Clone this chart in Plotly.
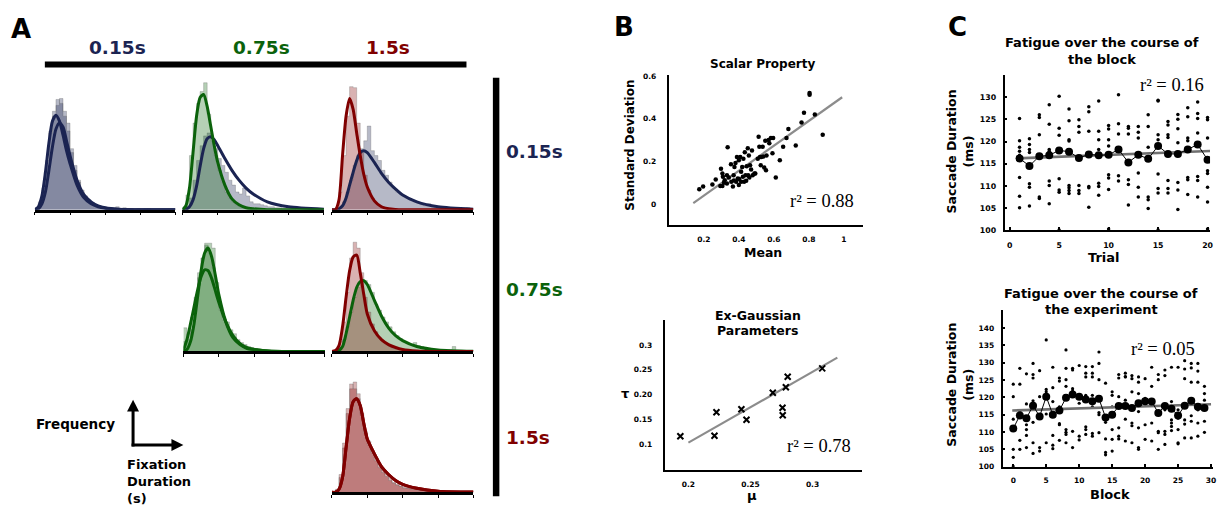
import plotly.graph_objects as go

W, H = 1223, 511

NAVY = '#1b2452'
GREEN = '#0b620b'
RED = '#800000'
NAVY_FILL = 'rgba(27,36,82,0.32)'
GREEN_FILL = 'rgba(11,98,11,0.30)'
RED_FILL = 'rgba(128,0,0,0.30)'

# ---------------- Panel A data (fixation duration histograms) ----------------
BIN_EDGES = [round(0.05 * i, 2) for i in range(41)]
CURVE_X = [0, 0.05, 0.1, 0.15, 0.2, 0.25, 0.3, 0.35, 0.4, 0.45, 0.5, 0.6, 0.7, 0.8, 0.9, 1.0, 1.2, 1.5, 2.0]

H11A = [2, 8, 22, 50, 80, 100, 106, 113, 100, 88, 62, 45, 30, 20, 14, 10, 7, 5, 4, 3, 2, 2, 1, 3, 1, 2, 1, 1, 0, 1, 0, 0, 1, 0, 0, 0, 0, 0, 0, 0]
H11B = [1, 6, 20, 45, 78, 95, 112, 108, 95, 80, 58, 40, 28, 18, 12, 8, 6, 4, 3, 2, 2, 1, 2, 1, 1, 1, 0, 1, 0, 0, 0, 1, 0, 0, 0, 0, 0, 0, 0, 0]
H12G = [2, 15, 55, 88, 108, 120, 129, 97, 72, 55, 40, 28, 18, 12, 8, 5, 3, 2, 2, 1, 1, 0, 0, 0, 0, 0, 0, 0, 0, 0, 0, 0, 0, 0, 0, 0, 0, 0, 0, 0]
H12N = [0, 3, 12, 30, 50, 65, 75, 78, 70, 62, 52, 45, 38, 30, 25, 18, 16, 22, 14, 8, 6, 6, 5, 4, 3, 3, 2, 2, 1, 1, 1, 1, 0, 0, 0, 0, 0, 0, 0, 0]
H13R = [0, 2, 18, 55, 95, 125, 124, 88, 58, 35, 20, 12, 7, 4, 3, 2, 1, 1, 0, 0, 0, 0, 0, 0, 0, 0, 0, 0, 0, 0, 0, 0, 0, 0, 0, 0, 0, 0, 0, 0]
H13N = [0, 0, 2, 8, 18, 30, 45, 55, 62, 70, 85, 60, 55, 50, 40, 35, 28, 22, 18, 16, 14, 12, 10, 8, 7, 5, 4, 6, 3, 2, 2, 1, 1, 1, 1, 0, 1, 0, 2, 0]
H22A = [24, 12, 22, 47, 75, 95, 110, 110, 105, 70, 45, 35, 30, 22, 18, 12, 9, 7, 5, 4, 3, 2, 1, 1, 1, 0, 1, 0, 0, 0, 0, 0, 0, 0, 0, 0, 0, 0, 0, 0]
H22B = [10, 18, 35, 55, 80, 95, 108, 100, 85, 60, 42, 32, 25, 18, 14, 10, 7, 5, 4, 3, 2, 2, 1, 1, 0, 1, 0, 0, 0, 0, 0, 0, 0, 0, 0, 0, 0, 0, 0, 0]
H23R = [0, 2, 10, 30, 60, 95, 111, 105, 80, 55, 40, 28, 20, 14, 10, 7, 5, 3, 2, 2, 1, 0, 0, 0, 0, 0, 0, 0, 0, 0, 0, 0, 0, 0, 0, 0, 0, 0, 0, 0]
H23G = [0, 1, 4, 12, 25, 40, 55, 65, 70, 72, 68, 60, 48, 42, 35, 30, 25, 20, 16, 13, 10, 8, 7, 9, 6, 5, 3, 3, 2, 2, 2, 1, 1, 2, 5, 1, 0, 0, 0, 0]
H33A = [0, 3, 15, 45, 80, 105, 112, 100, 80, 62, 52, 42, 35, 28, 22, 18, 14, 10, 8, 6, 5, 4, 4, 3, 3, 2, 2, 2, 1, 1, 1, 1, 0, 0, 0, 0, 0, 0, 0, 0]
H33B = [0, 2, 18, 50, 85, 110, 105, 95, 78, 60, 48, 40, 32, 25, 20, 16, 12, 9, 7, 6, 4, 4, 3, 3, 2, 2, 1, 2, 1, 1, 1, 0, 0, 0, 0, 0, 0, 0, 0, 0]

C11A = [0, 3, 14, 38, 68, 90, 96, 90, 76, 60, 47, 25, 12, 6, 3, 1.5, 0.3, 0, 0]
C11B = [0, 1, 6, 18, 40, 64, 82, 88, 84, 70, 55, 30, 15, 8, 4, 2, 0.5, 0, 0]
C12G = [0, 4, 22, 58, 95, 114, 117, 105, 85, 65, 48, 25, 11, 5, 2, 1, 0, 0, 0]
C12N = [0, 0.5, 3, 10, 24, 44, 62, 72, 74, 71, 65, 52, 40, 30, 22, 16, 8, 3, 0.5]
C13R = [0, 0, 10, 55, 95, 113, 102, 78, 55, 36, 23, 9, 3, 1, 0.3, 0, 0, 0, 0]
C13N = [0, 0, 1, 4, 12, 25, 38, 50, 58, 60, 58, 48, 37, 28, 21, 15, 8, 3, 0.5]
C22A = [0, 2, 10, 28, 55, 82, 100, 105, 96, 78, 58, 30, 14, 7, 3, 2, 0.5, 0, 0]
C22B = [1, 12, 28, 45, 62, 76, 83, 82, 74, 62, 50, 30, 16, 8, 4, 2, 0.5, 0, 0]
C23R = [0, 1, 6, 25, 55, 82, 96, 98, 80, 58, 38, 21, 12, 7, 4, 2, 0.5, 0, 0]
C23G = [0, 0, 1, 5, 18, 35, 52, 65, 71, 72, 68, 52, 36, 24, 16, 11, 5, 1.5, 0.2]
C33R = [0, 0, 3, 15, 45, 75, 92, 95, 88, 70, 54, 39, 26, 18, 12, 8, 4, 1, 0.2]

COL_LABELS = ['0.15s', '0.75s', '1.5s']
ROW_LABELS = ['0.15s', '0.75s', '1.5s']

# ---------------- Panel B data ----------------
SP_MEAN = [0.174, 0.196, 0.249, 0.268, 0.298, 0.294, 0.306, 0.306, 0.309, 0.319, 0.332, 0.336, 0.332, 0.343,
           0.355, 0.357, 0.366, 0.370, 0.375, 0.381, 0.385, 0.389, 0.394, 0.400, 0.400, 0.408, 0.413, 0.413,
           0.419, 0.423, 0.426, 0.430, 0.434, 0.438, 0.442, 0.445, 0.451, 0.453, 0.457, 0.460, 0.464, 0.470,
           0.475, 0.479, 0.489, 0.494, 0.508, 0.513, 0.517, 0.521, 0.525, 0.528, 0.536, 0.540, 0.545, 0.551,
           0.555, 0.558, 0.570, 0.574, 0.583, 0.592, 0.596, 0.611, 0.634, 0.653, 0.672, 0.683, 0.725, 0.758,
           0.772, 0.804, 0.804, 0.834, 0.879, 0.315, 0.372, 0.402]
SP_SD = [0.069, 0.082, 0.092, 0.115, 0.166, 0.085, 0.085, 0.143, 0.128, 0.112, 0.135, 0.266, 0.097, 0.125,
         0.186, 0.105, 0.082, 0.135, 0.174, 0.192, 0.105, 0.220, 0.120, 0.089, 0.205, 0.220, 0.151, 0.105,
         0.174, 0.128, 0.212, 0.105, 0.243, 0.135, 0.109, 0.177, 0.262, 0.135, 0.228, 0.125, 0.182, 0.162,
         0.251, 0.135, 0.143, 0.143, 0.212, 0.315, 0.269, 0.220, 0.182, 0.220, 0.269, 0.223, 0.171, 0.297,
         0.158, 0.228, 0.300, 0.285, 0.309, 0.238, 0.309, 0.125, 0.205, 0.269, 0.309, 0.351, 0.274, 0.382,
         0.428, 0.520, 0.512, 0.420, 0.325, 0.100, 0.110, 0.118]
SP_FIT = {'slope': 0.5824, 'intercept': -0.0765, 'x': [0.14, 0.99], 'r2': '0.88'}

EG_MU = [0.1935, 0.221, 0.2226, 0.2427, 0.2468, 0.268, 0.2758, 0.276, 0.2785, 0.280, 0.3078]
EG_TAU = [0.117, 0.118, 0.165, 0.171, 0.150, 0.204, 0.174, 0.159, 0.215, 0.236, 0.253]
EG_FIT = {'slope': 1.42, 'intercept': -0.180, 'x': [0.2, 0.32], 'r2': '0.78'}

# ---------------- Panel C data ----------------
TRIALS = list(range(1, 21))
TRIAL_MEANS = [116.2, 114.5, 116.7, 116.9, 118.0, 117.7, 116.3, 117.1, 116.9, 117.0,
               118.2, 115.3, 117.0, 116.1, 119.0, 117.2, 117.2, 118.2, 119.3, 115.9]
TRIAL_SUBJECTS = [
    [125.2, 120.2, 118.7, 117.8, 116.9, 111.9, 107.7, 105.1],
    [120.6, 119.3, 118.2, 117.5, 110.5, 109.7, 105.5],
    [126.0, 125.4, 121.5, 117.0, 107.5, 107.2],
    [128.3, 123.9, 118.2, 117.8, 111.1, 110.1, 106.0],
    [130.2, 123.0, 121.4, 118.2, 111.6, 109.1, 108.6, 100.1],
    [127.3, 124.7, 120.4, 120.1, 110.1, 109.6, 109.0, 108.3],
    [124.9, 123.4, 122.1, 110.1, 109.0, 108.3],
    [127.8, 126.7, 122.3, 109.9, 109.6, 105.2],
    [129.1, 122.3, 120.4, 118.2, 110.6, 109.9, 107.9],
    [123.6, 122.8, 120.4, 119.0, 112.5, 111.8, 109.2, 100.3],
    [130.5, 124.0, 121.7, 112.3, 111.1],
    [123.4, 123.0, 121.7, 111.4, 110.3, 105.7],
    [123.4, 122.1, 120.8, 112.9, 109.7, 107.5],
    [126.0, 123.4, 118.7, 107.5, 106.9, 104.9],
    [129.3, 129.1, 121.5, 120.4, 112.7, 109.4, 108.4, 100.1],
    [124.5, 123.7, 121.5, 120.9, 111.2, 109.4, 108.4],
    [126.1, 125.0, 122.9, 119.7, 110.8, 109.1, 104.7],
    [127.6, 125.6, 120.8, 120.2, 111.9, 111.4, 108.1],
    [128.9, 126.3, 125.2, 121.9, 112.1, 111.2, 107.5],
    [125.4, 124.9, 120.8, 113.4, 112.8, 109.7, 106.4, 100.3],
]
TRIAL_FIT = {'slope': 0.0845, 'intercept': 116.14, 'x': [0.7, 20.25], 'r2': '0.16'}

BLOCKS = list(range(0, 30))
BLOCK_MEANS = [111.0, 114.8, 114.0, 117.6, 114.5, 120.2, 115.0, 116.2, 119.9, 120.8,
               120.2, 119.4, 118.9, 119.6, 114.2, 115.0, 117.5, 117.5, 116.9, 118.3,
               118.9, 118.8, 115.5, 117.5, 116.7, 114.8, 117.6, 119.0, 117.3, 116.9]
BLOCK_SUBJECTS = [
    [123.8, 120.2, 113.7, 105.0, 102.7, 100.1],
    [128.4, 123.8, 115.9, 107.6, 105.0],
    [126.8, 118.1, 112.1, 110.7, 109.0, 105.5],
    [129.8, 126.6, 125.6, 119.0, 112.8, 106.9, 103.8],
    [127.7, 120.2, 105.5, 104.5],
    [136.6, 122.3, 121.6, 115.2, 106.9],
    [128.7, 122.8, 118.8, 109.0, 106.2, 105.2],
    [125.6, 124.7, 117.3, 112.4, 112.1, 107.6],
    [133.7, 128.4, 125.1, 123.2, 110.7, 109.9, 109.3, 106.9],
    [128.4, 127.9, 122.5, 121.8, 110.2, 105.5],
    [129.2, 118.3, 108.8, 107.7],
    [128.9, 127.0, 125.9, 120.6, 111.5, 110.7, 109.3],
    [128.9, 127.0, 125.9, 120.6, 117.3, 109.6, 108.8],
    [133.1, 129.8, 125.1, 120.2, 115.6, 115.0, 109.8],
    [124.1, 112.8, 108.0, 104.1, 103.4],
    [121.6, 120.6, 117.3, 110.7, 107.9, 104.5],
    [126.6, 125.6, 120.2, 111.2, 108.8, 108.0],
    [127.0, 126.0, 125.9, 119.2, 113.7, 107.4],
    [126.3, 125.4, 121.6, 112.6, 111.8, 106.9],
    [125.9, 124.4, 121.1, 115.9, 111.2, 105.5, 105.0],
    [125.4, 119.7, 112.1, 107.9],
    [128.7, 123.2, 118.8, 112.6, 107.4],
    [126.6, 125.1, 110.2, 109.8, 105.0],
    [127.9, 126.3, 116.4, 110.2, 109.3, 106.4],
    [128.7, 118.8, 113.5, 112.6, 111.6, 110.4],
    [128.7, 116.4, 114.0, 110.7, 106.9, 106.6],
    [130.6, 128.2, 125.4, 113.5, 112.3, 108.3],
    [129.8, 128.5, 124.4, 114.7, 113.1, 108.3],
    [129.8, 127.6, 124.4, 116.4, 112.6, 108.8],
    [123.2, 121.1, 119.2, 113.1, 109.9],
]
BLOCK_FIT = {'slope': 0.0597, 'intercept': 116.21, 'x': [-0.15, 30.0], 'r2': '0.05'}

# ---------------- helpers ----------------
def dx(a, b):
    return [a / W, b / W]


def dy(top, bottom):
    return [1 - bottom / H, 1 - top / H]


def px(x):
    return x / W


def py(y):
    return 1 - y / H


fig = go.Figure()
layout = dict(width=W, height=H, margin=dict(l=0, r=0, t=0, b=0),
              paper_bgcolor='white', plot_bgcolor='rgba(0,0,0,0)', showlegend=False,
              font=dict(family='DejaVu Sans', color='black'))

# histogram panels: (x0, x1, baseline_y, hists, curves)
HIST_PANELS = [
    (35, 176, 210, [(H11A, NAVY_FILL), (H11B, NAVY_FILL)], [(C11A, NAVY), (C11B, NAVY)]),
    (183, 325, 210, [(H12N, NAVY_FILL), (H12G, GREEN_FILL)], [(C12N, NAVY), (C12G, GREEN)]),
    (333, 475, 210, [(H13N, NAVY_FILL), (H13R, RED_FILL)], [(C13N, NAVY), (C13R, RED)]),
    (184, 326, 354, [(H22A, GREEN_FILL), (H22B, GREEN_FILL)], [(C22A, GREEN), (C22B, GREEN)]),
    (333, 475, 354, [(H23G, GREEN_FILL), (H23R, RED_FILL)], [(C23G, GREEN), (C23R, RED)]),
    (333, 475, 497, [(H33A, RED_FILL), (H33B, RED_FILL)], [(C33R, RED), (C33R, RED)]),
]

ax_i = 0
for (x0, x1, base, hists, curves) in HIST_PANELS:
    ax_i += 1
    sfx = '' if ax_i == 1 else str(ax_i)
    for h, col in hists:
        fig.add_trace(go.Scatter(x=BIN_EDGES, y=h + [h[-1]], mode='lines', line_shape='hv',
                                 line=dict(color='rgba(90,90,90,0.35)', width=0.8),
                                 fill='tozeroy', fillcolor=col, hoverinfo='skip',
                                 xaxis='x' + sfx, yaxis='y' + sfx))
    for c, col in curves:
        fig.add_trace(go.Scatter(x=CURVE_X, y=c, mode='lines',
                                 line=dict(color=col, width=3, shape='spline', smoothing=0.7),
                                 xaxis='x' + sfx, yaxis='y' + sfx))
    layout['xaxis' + sfx] = dict(domain=dx(x0, x1), range=[0, 2], anchor='y' + sfx,
                                 showline=True, linecolor='black', linewidth=2.5,
                                 ticks='outside', ticklen=3, tickwidth=1.2, tickcolor='black',
                                 tickvals=[0, 0.5, 1, 1.5, 2], showticklabels=False,
                                 showgrid=False, zeroline=False)
    layout['yaxis' + sfx] = dict(domain=dy(base - 135, base), range=[0, 135], anchor='x' + sfx,
                                 visible=False, showgrid=False, zeroline=False)


def scatter_axes(n, xdom, ydom, xr, yr, xt, xtt, yt, ytt, tsize, xstand, ystand, ticks=''):
    sfx = str(n)
    tf = dict(family='DejaVu Sans', size=tsize, weight='bold', color='black')
    layout['xaxis' + sfx] = dict(domain=xdom, range=xr, anchor='y' + sfx, showline=True,
                                 linecolor='black', linewidth=2, showgrid=False, zeroline=False,
                                 tickvals=xt, ticktext=xtt, ticks=ticks, ticklen=3, tickwidth=2,
                                 tickcolor='black', ticklabelstandoff=xstand, tickfont=tf)
    layout['yaxis' + sfx] = dict(domain=ydom, range=yr, anchor='x' + sfx, showline=True,
                                 linecolor='black', linewidth=2, showgrid=False, zeroline=False,
                                 tickvals=yt, ticktext=ytt, ticks=ticks, ticklen=2, tickwidth=2,
                                 tickcolor='black', ticklabelstandoff=ystand, tickfont=tf)
    return sfx


# ---- B top: scalar property ----
s = scatter_axes(7, dx(671, 866), dy(73, 226), [0, 1.11], [-0.1, 0.605],
                 [0.2, 0.4, 0.6, 0.8, 1], ['0.2', '0.4', '0.6', '0.8', '1'],
                 [0, 0.2, 0.4, 0.6], ['0', '0.2', '0.4', '0.6'], 7.5, 6, 9)
fig.add_trace(go.Scatter(x=SP_FIT['x'], y=[SP_FIT['slope'] * v + SP_FIT['intercept'] for v in SP_FIT['x']],
                         mode='lines', line=dict(color='#8c8c8c', width=2.2), xaxis='x' + s, yaxis='y' + s))
fig.add_trace(go.Scatter(x=SP_MEAN, y=SP_SD, mode='markers', marker=dict(color='black', size=4.5),
                         xaxis='x' + s, yaxis='y' + s))

# ---- B bottom: ex-Gaussian parameters ----
s = scatter_axes(8, dx(667, 865), dy(322, 474), [0.181, 0.34], [0.05, 0.35],
                 [0.2, 0.25, 0.3], ['0.2', '0.25', '0.3'],
                 [0.1, 0.15, 0.2, 0.25, 0.3], ['0.1', '0.15', '0.20', '0.25', '0.3'], 7.5, 6, 9)
fig.add_trace(go.Scatter(x=EG_FIT['x'], y=[EG_FIT['slope'] * v + EG_FIT['intercept'] for v in EG_FIT['x']],
                         mode='lines', line=dict(color='#8c8c8c', width=2.2), xaxis='x' + s, yaxis='y' + s))
fig.add_trace(go.Scatter(x=EG_MU, y=EG_TAU, mode='markers',
                         marker=dict(symbol='x-thin', size=6, line=dict(color='black', width=2)),
                         xaxis='x' + s, yaxis='y' + s))

# ---- C top: fatigue over block ----
s = scatter_axes(9, dx(1008, 1214), dy(73, 231), [-0.5, 20.25], [100, 135],
                 [0, 5, 10, 15, 20], ['0', '5', '10', '15', '20'],
                 [100, 105, 110, 115, 120, 125, 130], ['100', '105', '110', '115', '120', '125', '130'],
                 7.8, 6, 5, ticks='inside')
tx, ty = [], []
for t, vals in zip(TRIALS, TRIAL_SUBJECTS):
    for v in vals:
        tx.append(t)
        ty.append(v)
fig.add_trace(go.Scatter(x=tx, y=ty, mode='markers', marker=dict(color='black', size=3.5),
                         xaxis='x' + s, yaxis='y' + s))
fig.add_trace(go.Scatter(x=TRIAL_FIT['x'], y=[TRIAL_FIT['slope'] * v + TRIAL_FIT['intercept'] for v in TRIAL_FIT['x']],
                         mode='lines', line=dict(color='#707070', width=2.6), xaxis='x' + s, yaxis='y' + s))
fig.add_trace(go.Scatter(x=TRIALS, y=TRIAL_MEANS, mode='lines+markers', line=dict(color='black', width=1),
                         marker=dict(color='black', size=8), xaxis='x' + s, yaxis='y' + s))

# ---- C bottom: fatigue over experiment ----
s = scatter_axes(10, dx(1006, 1217), dy(312, 471), [-1.6, 30.3], [100, 145.2],
                 [0, 5, 10, 15, 20, 25, 30], ['0', '5', '10', '15', '20', '25', '30'],
                 [100, 105, 110, 115, 120, 125, 130, 135, 140],
                 ['100', '105', '110', '115', '120', '125', '130', '135', '140'],
                 7.5, 5, 5, ticks='inside')
bx, by = [], []
for b, vals in zip(BLOCKS, BLOCK_SUBJECTS):
    for v in vals:
        bx.append(b)
        by.append(v)
fig.add_trace(go.Scatter(x=bx, y=by, mode='markers', marker=dict(color='black', size=3.2),
                         xaxis='x' + s, yaxis='y' + s))
fig.add_trace(go.Scatter(x=BLOCK_FIT['x'], y=[BLOCK_FIT['slope'] * v + BLOCK_FIT['intercept'] for v in BLOCK_FIT['x']],
                         mode='lines', line=dict(color='#707070', width=2.6), xaxis='x' + s, yaxis='y' + s))
fig.add_trace(go.Scatter(x=BLOCKS, y=BLOCK_MEANS, mode='lines+markers', line=dict(color='black', width=1),
                         marker=dict(color='black', size=8), xaxis='x' + s, yaxis='y' + s))

# ---------------- annotations ----------------
ann = []


def text(x, y, t, size, color='black', bold=True, xanchor='center', angle=0, family='DejaVu Sans'):
    ann.append(dict(x=px(x), y=py(y), xref='paper', yref='paper', text=('<b>%s</b>' % t) if bold else t,
                    showarrow=False, xanchor=xanchor, yanchor='middle', textangle=angle,
                    font=dict(size=size, color=color, family=family)))


text(21, 26, 'A', 26)
text(626, 24, 'B', 26)
text(961, 24, 'C', 26)

COL_X = [118, 262, 389]
COL_COLORS = [NAVY, GREEN, RED]
for lab, x, c in zip(COL_LABELS, COL_X, COL_COLORS):
    text(x, 45, lab, 18.5, c)
ROW_Y = [151, 291, 441]
for lab, y, c in zip(ROW_LABELS, ROW_Y, COL_COLORS):
    text(506, y, lab, 18.5, c, xanchor='left')

text(117, 428, 'Frequency', 13.5, xanchor='right')
text(125, 469, 'Fixation', 13, xanchor='left')
text(125, 486, 'Duration', 13, xanchor='left')
text(125, 503, '(s)', 13, xanchor='left')

# B titles
text(766, 62, 'Scalar Property', 12)
text(632, 144, 'Standard Deviation', 12, angle=-90)
text(766, 253, 'Mean', 12.5)
text(825, 201, 'r² = ' + SP_FIT['r2'], 18.5, bold=False, family='Liberation Serif')

text(760, 317, 'Ex-Gaussian', 12.5)
text(760, 333, 'Parameters', 12.5)
text(627, 397, 'τ', 13)
text(754, 500, 'μ', 13)
text(822, 450, 'r² = ' + EG_FIT['r2'], 18.5, bold=False, family='Liberation Serif')

# C titles
text(1106, 40, 'Fatigue over the course of', 13)
text(1106, 57, 'the block', 13)
text(955, 151, 'Saccade Duration', 12.5, angle=-90)
text(972, 151, '(ms)', 12.5, angle=-90)
text(1108, 259, 'Trial', 13)
text(1176, 83, 'r² = ' + TRIAL_FIT['r2'], 18.5, bold=False, family='Liberation Serif')

text(1105, 295, 'Fatigue over the course of', 13)
text(1105, 311, 'the experiment', 13)
text(955, 388, 'Saccade Duration', 12.5, angle=-90)
text(972, 388, '(ms)', 12.5, angle=-90)
text(1114, 499, 'Block', 13)
text(1167, 352, 'r² = ' + BLOCK_FIT['r2'], 18.5, bold=False, family='Liberation Serif')

layout['annotations'] = ann


def tri(points):
    d = 'M ' + ' L '.join('%f,%f' % (px(a), py(b)) for a, b in points) + ' Z'
    return dict(type='path', xref='paper', yref='paper', path=d, fillcolor='black', line=dict(width=0))


layout['shapes'] = [
    # black condition bars
    dict(type='rect', xref='paper', yref='paper', x0=px(45), x1=px(468), y0=py(65.5), y1=py(59.5),
         fillcolor='black', line=dict(width=0)),
    dict(type='rect', xref='paper', yref='paper', x0=px(494.5), x1=px(501), y0=py(501), y1=py(76),
         fillcolor='black', line=dict(width=0)),
    # frequency / duration arrows
    dict(type='line', xref='paper', yref='paper', x0=px(133.5), x1=px(133.5), y0=py(450.5), y1=py(413),
         line=dict(color='black', width=3)),
    dict(type='line', xref='paper', yref='paper', x0=px(132), x1=px(173), y0=py(449), y1=py(449),
         line=dict(color='black', width=3)),
    tri([(133.5, 403), (127.5, 415), (139.5, 415)]),
    tri([(184, 449), (172, 443), (172, 455)]),
]

fig.update_layout(**layout)
fig.write_html('out.html')
